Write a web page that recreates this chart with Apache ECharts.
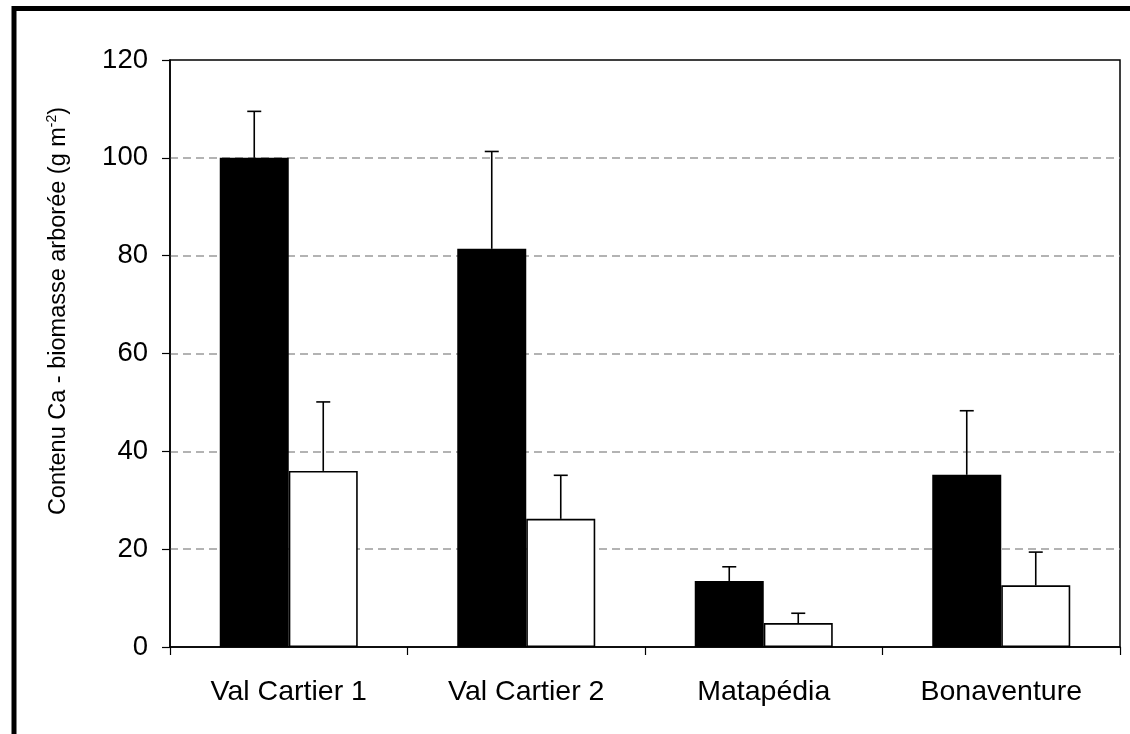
<!DOCTYPE html>
<html>
<head>
<meta charset="utf-8">
<script src="https://cdn.jsdelivr.net/npm/echarts@6/dist/echarts.min.js"></script>
<style>
html,body{margin:0;padding:0;background:#fff;}
#chart{width:1130px;height:734px;}
</style>
</head>
<body>
<div id="chart"></div>
<script>
const categories = ['Val Cartier 1', 'Val Cartier 2', 'Matapédia', 'Bonaventure'];
const blackValues = [100, 81.4, 13.5, 35.2];
const blackErrors = [9.5, 19.9, 2.9, 13.1];
const whiteValues = [36, 26.2, 4.9, 12.6];
const whiteErrors = [14.1, 8.9, 2.0, 6.8];
const yTicks = [0, 20, 40, 60, 80, 100, 120];

const FONT = 'Liberation Sans, Arial, sans-serif';
const BAR_W = 69;

function errData(vals, errs) {
  return vals.map((v, i) => [i, v, errs[i]]);
}

function errRender(offset) {
  return function (params, api) {
    const base = api.coord([api.value(0), api.value(1)]);
    const top = api.coord([api.value(0), api.value(1) + api.value(2)]);
    const x = base[0] + offset;
    const style = { stroke: '#000', lineWidth: 1.6 };
    return {
      type: 'group',
      children: [
        { type: 'line', shape: { x1: x, y1: base[1], x2: x, y2: top[1] }, style: style },
        { type: 'line', shape: { x1: x - 7, y1: top[1], x2: x + 7, y2: top[1] }, style: style }
      ]
    };
  };
}

const chart = echarts.init(document.getElementById('chart'), null, { renderer: 'canvas' });
chart.setOption({
  backgroundColor: '#fff',
  animation: false,
  textStyle: { fontFamily: FONT },
  grid: {
    left: 170, right: 10, top: 60, bottom: 87,
    show: true, borderColor: '#000', borderWidth: 1.5, backgroundColor: 'transparent'
  },
  xAxis: {
    type: 'category',
    data: categories,
    axisLine: { lineStyle: { color: '#000', width: 1.5 } },
    axisTick: { show: true, length: 8, lineStyle: { color: '#000', width: 1.2 } },
    axisLabel: { color: '#000', fontSize: 28.5, fontFamily: FONT, margin: 31 },
    splitLine: { show: false }
  },
  yAxis: {
    type: 'value',
    min: yTicks[0], max: yTicks[yTicks.length - 1], interval: 20,
    axisLine: { show: true, lineStyle: { color: '#000', width: 1.5 } },
    axisTick: { show: true, length: 8, lineStyle: { color: '#000', width: 1.2 } },
    axisLabel: { color: '#000', fontSize: 27.5, fontFamily: FONT, margin: 22 },
    splitLine: {
      show: true,
      showMaxLine: false,
      showMinLine: false,
      lineStyle: { color: '#9a9a9a', width: 1.5, type: [8, 5] }
    }
  },
  series: [
    {
      type: 'bar', data: blackValues, barWidth: BAR_W, barGap: '0%',
      itemStyle: { color: '#000', borderColor: '#000', borderWidth: 0 }, z: 2
    },
    {
      type: 'bar', data: whiteValues, barWidth: BAR_W, barGap: '0%',
      itemStyle: { color: '#fff', borderColor: '#000', borderWidth: 1.6 }, z: 2
    },
    {
      type: 'custom', data: errData(blackValues, blackErrors),
      renderItem: errRender(-BAR_W / 2), z: 5,
      encode: { x: 0, y: [1] }
    },
    {
      type: 'custom', data: errData(whiteValues, whiteErrors),
      renderItem: errRender(BAR_W / 2), z: 5,
      encode: { x: 0, y: [1] }
    }
  ],
  graphic: [
    {
      type: 'rect', z: 10, silent: true,
      shape: { x: 14, y: 8.5, width: 2000, height: 2000 },
      style: { fill: 'none', stroke: '#000', lineWidth: 5 }
    },
    {
      type: 'text', z: 10,
      x: 59, y: 311, rotation: Math.PI / 2,
      style: {
        text: '{a|Contenu Ca - biomasse arborée (g m}{s|-2}{a|)}',
        align: 'center', verticalAlign: 'middle',
        fill: '#000',
        rich: {
          a: { fontSize: 23.5, fontFamily: FONT, fill: '#000', lineHeight: 30 },
          s: { fontSize: 14, fontFamily: FONT, fill: '#000', lineHeight: 30, padding: [0, 0, 14, 0] }
        }
      }
    }
  ]
});
</script>
</body>
</html>
